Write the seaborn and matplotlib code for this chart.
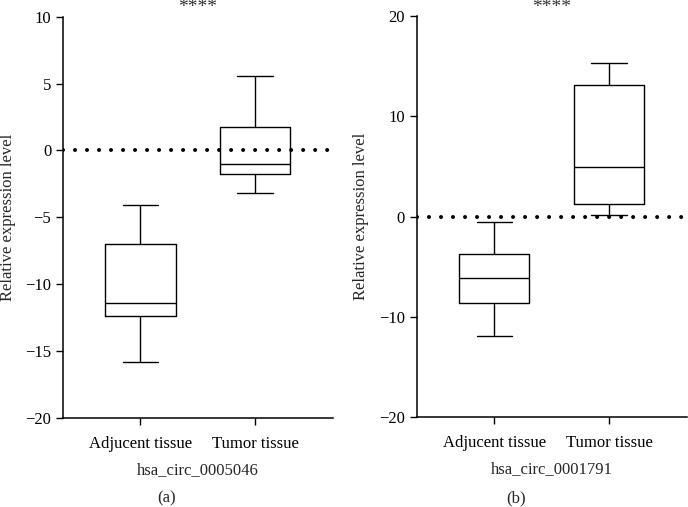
# box plots of circRNA relative expression, adjacent vs. tumor tissue

import pandas as pd
import seaborn as sns
import matplotlib.pyplot as plt

groups = ["Adjucent tissue", "Tumor tissue"]

# five-number summaries: min, q1, median, q3, max
circ_5046_adjacent = [-15.8, -12.4, -11.4, -7.0, -4.1]
circ_5046_tumor = [-3.2, -1.76, -1.0, 1.74, 5.6]
circ_1791_adjacent = [-11.9, -8.67, -6.13, -3.73, -0.5]
circ_1791_tumor = [0.2, 1.24, 4.97, 13.1, 15.3]

panels = [
    ("hsa_circ_0005046", circ_5046_adjacent, circ_5046_tumor, [-20, -15, -10, -5, 0, 5, 10], "(a)"),
    ("hsa_circ_0001791", circ_1791_adjacent, circ_1791_tumor, [-20, -10, 0, 10, 20], "(b)"),
]

sns.set_style("ticks")
plt.rcParams['font.family'] = ['Liberation Serif', 'DejaVu Serif']
plt.rcParams['font.size'] = 12

fig = plt.figure(figsize=(6.88, 5.07), dpi=100)
axes_pos = [[0.0916, 0.1755, 0.3924, 0.7915], [0.6057, 0.1775, 0.3930, 0.7905]]

for i, (name, adj, tum, yticks, tag) in enumerate(panels):
    ax = fig.add_axes(axes_pos[i])
    df = pd.DataFrame({
        "group": [groups[0]] * len(adj) + [groups[1]] * len(tum),
        "value": adj + tum,
    })
    sns.boxplot(data=df, x="group", y="value", order=groups, ax=ax,
                whis=(0, 100), width=0.613, fill=False, color="black",
                linecolor="black", linewidth=1.0, showfliers=False)
    ax.axhline(0, color="black", lw=2.9, linestyle=(0, (0.001, 2.98)),
               dash_capstyle="round", zorder=5)
    ax.set_xlim(-0.675, 1.68)
    ax.set_ylim(yticks[0], yticks[-1])
    ax.set_yticks(yticks)
    ax.set_xlabel(name, fontsize=12, labelpad=7)
    ax.set_ylabel("Relative expression level", fontsize=12)
    ax.yaxis.set_label_coords(-0.175, 0.5)
    ax.tick_params(length=5, width=1, colors="black", labelsize=12)
    ax.tick_params(axis="x", pad=8)
    for s in ["left", "bottom"]:
        ax.spines[s].set_linewidth(1.1)
        ax.spines[s].set_color("black")
    sns.despine(ax=ax)
    # significance marker and panel tag
    bb = ax.get_position()
    xc = bb.x0 + bb.width * (0.5 + 0.675) / 2.355
    fig.text(xc, 1 - 7 / 507, "****", ha="center", va="center", fontsize=14,
             color="#333333")
    fig.text((bb.x0 - 63 / 688 + bb.x1) / 2 if i == 0 else (344 / 688 + 1) / 2,
             1 - 498 / 507, tag, ha="center", va="center", fontsize=12)

fig.savefig("out.png", dpi=100)
